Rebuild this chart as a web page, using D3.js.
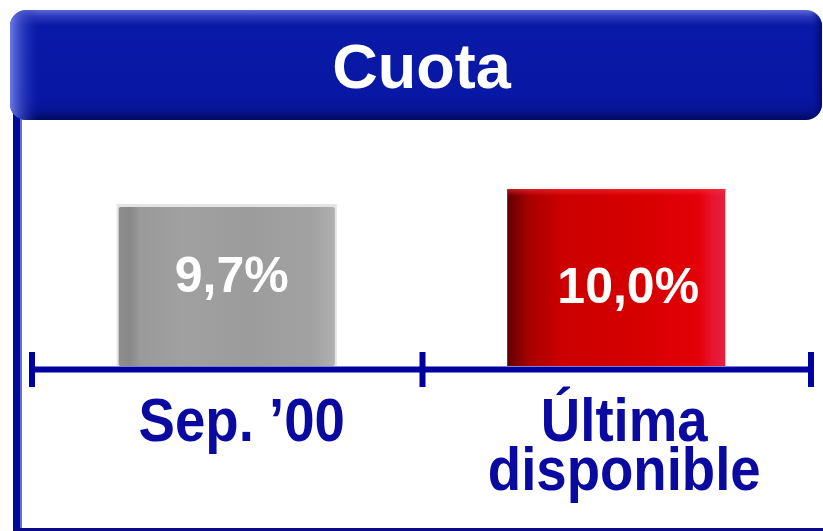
<!DOCTYPE html>
<html>
<head>
<meta charset="utf-8">
<script src="https://cdn.jsdelivr.net/npm/d3@7"></script>
<style>
  html, body { margin: 0; padding: 0; background: #ffffff; }
  svg { display: block; }
  text { font-family: "Liberation Sans", Arial, sans-serif; font-weight: bold; }
</style>
</head>
<body>
<script>
// Market share ("Cuota") at two points in time
const title = "Cuota";
const categories = ["Sep. ’00", "Última disponible"];
const categoryLines = [["Sep. ’00"], ["Última", "disponible"]];
const values = [9.7, 10.0];
const valueLabels = ["9,7%", "10,0%"];

const W = 823, H = 531;
const svg = d3.select("body").append("svg").attr("width", W).attr("height", H);
const defs = svg.append("defs");

// ---- gradients ----
const hdrV = defs.append("linearGradient").attr("id", "hdrV").attr("x1", 0).attr("y1", 0).attr("x2", 0).attr("y2", 1);
[[0, "#5a68d8"], [0.06, "#2a38bc"], [0.14, "#0a1aa8"], [0.8, "#0818a4"], [0.92, "#061290"], [1, "#020a5c"]]
  .forEach(([o, c]) => hdrV.append("stop").attr("offset", o).attr("stop-color", c));
const hdrH = defs.append("linearGradient").attr("id", "hdrH").attr("x1", 0).attr("y1", 0).attr("x2", 1).attr("y2", 0);
[[0, "#7080e8", 0.95], [0.012, "#4a58d0", 0.7], [0.035, "#1a2ab0", 0.0], [0.985, "#0a1aa8", 0], [1, "#000060", 0.7]]
  .forEach(([o, c, a]) => hdrH.append("stop").attr("offset", o).attr("stop-color", c).attr("stop-opacity", a));

const redG = defs.append("linearGradient").attr("id", "redG").attr("x1", 0).attr("y1", 0).attr("x2", 1).attr("y2", 0);
[[0, "#600000"], [0.1, "#a80000"], [0.25, "#cc0000"], [0.6, "#d60000"], [0.88, "#e40008"], [0.94, "#e81430"], [1, "#e42040"]]
  .forEach(([o, c]) => redG.append("stop").attr("offset", o).attr("stop-color", c));
const redTop = defs.append("linearGradient").attr("id", "redTop").attr("x1", 0).attr("y1", 0).attr("x2", 0).attr("y2", 1);
[[0, "#ff3040", 0.6], [0.04, "#ff2030", 0], [1, "#ff2030", 0]]
  .forEach(([o, c, a]) => redTop.append("stop").attr("offset", o).attr("stop-color", c).attr("stop-opacity", a));

const grayG = defs.append("linearGradient").attr("id", "grayG").attr("x1", 0).attr("y1", 0).attr("x2", 1).attr("y2", 0);
[[0, "#8e8e8e"], [0.05, "#888888"], [0.1, "#9a9a9a"], [0.3, "#a0a0a0"], [0.6, "#9c9c9c"], [0.9, "#a2a2a2"], [1, "#b0b0b0"]]
  .forEach(([o, c]) => grayG.append("stop").attr("offset", o).attr("stop-color", c));

// ---- frame ----
svg.append("rect").attr("x", 13).attr("y", 100).attr("width", 7).attr("height", 431).attr("fill", "#000a9c");
svg.append("rect").attr("x", 20).attr("y", 100).attr("width", 2).attr("height", 431).attr("fill", "#6a70d0");
svg.append("rect").attr("x", 13).attr("y", 528).attr("width", W - 13).attr("height", 3).attr("fill", "#0a0a8a");

// ---- header ----
const hdr = { x: 10, y: 10, w: 812, h: 110, r: 16 };
svg.append("rect").attr("x", hdr.x).attr("y", hdr.y).attr("width", hdr.w).attr("height", hdr.h)
  .attr("rx", hdr.r).attr("fill", "url(#hdrV)");
svg.append("rect").attr("x", hdr.x).attr("y", hdr.y).attr("width", hdr.w).attr("height", hdr.h)
  .attr("rx", hdr.r).attr("fill", "url(#hdrH)");
svg.append("text").attr("x", 421.5).attr("y", 88).attr("text-anchor", "middle")
  .attr("font-size", 63).attr("fill", "#ffffff").text(title);

// ---- scales ----
const x = d3.scaleBand().domain(categories).range([32, 811]).paddingInner(0.44).paddingOuter(0.22);
const y = d3.scaleLinear().domain([6.68, 10]).range([366, 189]);

const data = categories.map((c, i) => ({ c, v: values[i], label: valueLabels[i], lines: categoryLines[i], i }));

// ---- bars ----
const gray = data[0], red = data[1];
svg.append("rect")
  .attr("x", x(gray.c) - 1).attr("y", y(gray.v) - 1)
  .attr("width", x.bandwidth() + 2).attr("height", y.range()[0] - y(gray.v) + 1)
  .attr("fill", "#e4e4e4");
svg.append("rect")
  .attr("x", x(gray.c) + 1).attr("y", y(gray.v) + 2)
  .attr("width", x.bandwidth() - 2).attr("height", y.range()[0] - y(gray.v) - 2)
  .attr("rx", 2).attr("fill", "url(#grayG)");

svg.append("rect")
  .attr("x", x(red.c)).attr("y", y(red.v))
  .attr("width", x.bandwidth()).attr("height", y.range()[0] - y(red.v))
  .attr("fill", "url(#redG)");
svg.append("rect")
  .attr("x", x(red.c)).attr("y", y(red.v))
  .attr("width", x.bandwidth()).attr("height", y.range()[0] - y(red.v))
  .attr("fill", "url(#redTop)");

// ---- value labels ----
const labelPos = [{ dx: 5, dy: 87 }, { dx: 12, dy: 114 }];
svg.selectAll("text.val").data(data).join("text").attr("class", "val")
  .attr("x", d => x(d.c) + x.bandwidth() / 2 + labelPos[d.i].dx)
  .attr("y", d => y(d.v) + labelPos[d.i].dy)
  .attr("text-anchor", "middle").attr("font-size", 50).attr("fill", "#ffffff")
  .text(d => d.label);

// ---- axis ----
const step = x.step();
const axisY = 369.5;
const tickXs = [x.range()[0], x(categories[0]) + x.bandwidth() + step * x.paddingInner() / 2 + 1, x.range()[1]];
svg.append("rect").attr("x", tickXs[0]).attr("y", axisY - 3).attr("width", tickXs[2] - tickXs[0]).attr("height", 6)
  .attr("fill", "#0000a0");
svg.selectAll("rect.tick").data(tickXs).join("rect").attr("class", "tick")
  .attr("x", d => d - 3).attr("y", 352).attr("width", 6).attr("height", 35).attr("fill", "#0000a0");

// ---- category labels ----
const catOffset = [15, 8];
const cat = svg.selectAll("g.cat").data(data).join("g").attr("class", "cat")
  .attr("transform", d => `translate(${x(d.c) + x.bandwidth() / 2 + catOffset[d.i]},0) scale(0.895,1)`);
cat.selectAll("text").data(d => d.lines).join("text")
  .attr("x", 0).attr("y", (d, j) => 441 + j * 49)
  .attr("text-anchor", "middle").attr("font-size", 61).attr("fill", "#0a0aa0")
  .text(d => d);
</script>
</body>
</html>
